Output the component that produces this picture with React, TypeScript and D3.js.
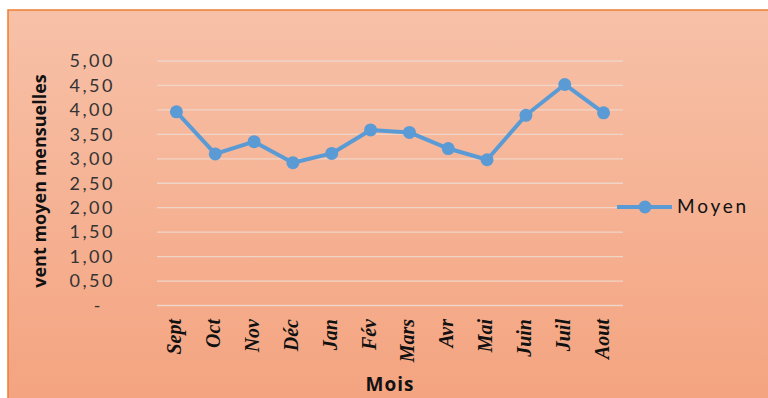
import React from 'react';
import * as d3 from 'd3';

const months = ['Sept', 'Oct', 'Nov', 'Déc', 'Jan', 'Fév', 'Mars', 'Avr', 'Mai', 'Juin', 'Juil', 'Aout'];
const moyen = [3.96, 3.1, 3.35, 2.92, 3.11, 3.59, 3.54, 3.21, 2.98, 3.89, 4.52, 3.94];
const yTicks = [0, 0.5, 1, 1.5, 2, 2.5, 3, 3.5, 4, 4.5, 5];
const yTickLabels = ['-', '0,50', '1,00', '1,50', '2,00', '2,50', '3,00', '3,50', '4,00', '4,50', '5,00'];
const seriesName = 'Moyen';
const xTitle = 'Mois';
const yTitle = 'vent moyen mensuelles';

export default function App() {
  const W = 768, H = 398;
  const x = d3.scaleBand<string>().domain(months).range([157, 623]);
  const y = d3.scaleLinear().domain([0, 5]).range([305.5, 61]);
  const cx = (m: string) => (x(m) as number) + x.bandwidth() / 2;
  const line = d3.line<number>().x((_, i) => cx(months[i])).y((v) => y(v));
  const blue = '#5b9bd5';
  const sans = 'Lato, "Open Sans", sans-serif';
  return (
    <svg width={W} height={H} style={{ position: 'absolute', left: 0, top: 0 }}>
      <defs>
        <linearGradient id="bg" x1="0" y1="0" x2="0" y2="1">
          <stop offset="0" stopColor="#f7c1a8" />
          <stop offset="1" stopColor="#f4a37f" />
        </linearGradient>
      </defs>
      <rect x={0} y={0} width={W} height={H} fill="#ffffff" />
      <rect x={8} y={10} width={W} height={H} fill="url(#bg)" stroke="#ed7d31" strokeWidth={1.5} />
      {yTicks.map((t) => (
        <line key={t} x1={157} x2={623} y1={y(t)} y2={y(t)} stroke="#efd5c8" strokeWidth={1.3} />
      ))}
      {yTicks.map((t, i) => (
        <text
          key={'l' + t}
          x={i === 0 ? 103 : 115}
          y={y(t)}
          dy="0.35em"
          textAnchor="end"
          fontFamily={sans}
          fontSize={18}
          letterSpacing={2.5}
          fill="#333"
        >
          {yTickLabels[i]}
        </text>
      ))}
      <text
        transform="translate(46,181) rotate(-90)"
        textAnchor="middle"
        fontFamily={'"Open Sans", sans-serif'}
        fontWeight="bold"
        fontSize={18}
        fill="#111"
      >
        {yTitle}
      </text>
      {months.map((m) => (
        <text
          key={m}
          transform={`translate(${cx(m) + 5},319) rotate(-90)`}
          textAnchor="end"
          fontFamily={'"Liberation Serif", "Times New Roman", serif'}
          fontWeight="bold"
          fontStyle="italic"
          fontSize={20}
          fill="#111"
        >
          {m}
        </text>
      ))}
      <text x={390} y={391} textAnchor="middle" fontFamily={'"Open Sans", sans-serif'} fontWeight="bold" fontSize={19} letterSpacing={1} fill="#111">
        {xTitle}
      </text>
      <path d={line(moyen) || ''} fill="none" stroke={blue} strokeWidth={4} strokeLinejoin="round" />
      {moyen.map((v, i) => (
        <circle key={i} cx={cx(months[i])} cy={y(v)} r={6.5} fill={blue} />
      ))}
      <line x1={617} x2={672} y1={207} y2={207} stroke={blue} strokeWidth={4} />
      <circle cx={645} cy={207} r={6.5} fill={blue} />
      <text x={677} y={213} fontFamily={sans} fontSize={19} letterSpacing={2.8} fill="#111">
        {seriesName}
      </text>
    </svg>
  );
}
